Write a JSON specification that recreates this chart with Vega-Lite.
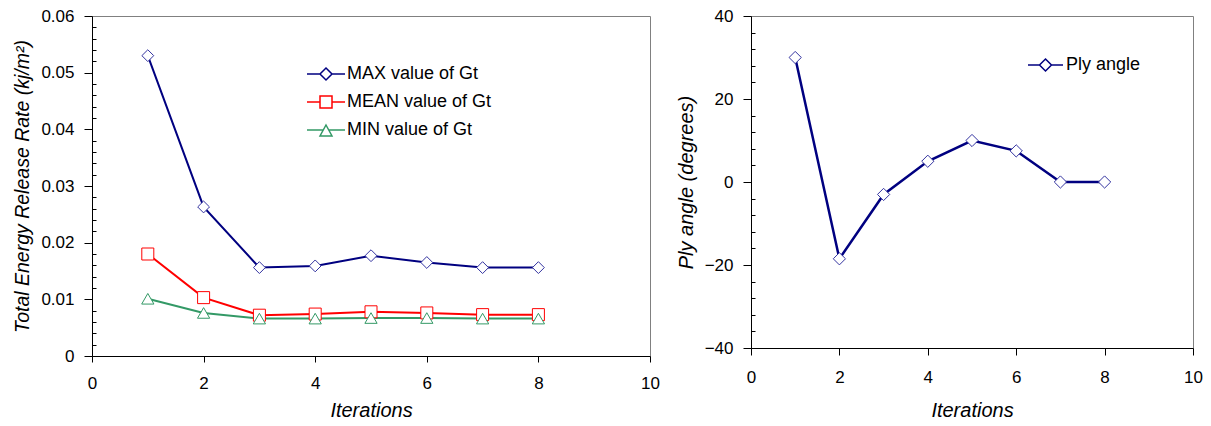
{
  "$schema": "https://vega.github.io/schema/vega-lite/v6.json",
  "padding": {"left": 12, "top": 6, "right": 5, "bottom": 5},
  "background": "white",
  "datasets": {
    "gt": [
      {"iter": 1, "series": "MAX value of Gt", "value": 0.0530},
      {"iter": 2, "series": "MAX value of Gt", "value": 0.0263},
      {"iter": 3, "series": "MAX value of Gt", "value": 0.0156},
      {"iter": 4, "series": "MAX value of Gt", "value": 0.0159},
      {"iter": 5, "series": "MAX value of Gt", "value": 0.0177},
      {"iter": 6, "series": "MAX value of Gt", "value": 0.0165},
      {"iter": 7, "series": "MAX value of Gt", "value": 0.0156},
      {"iter": 8, "series": "MAX value of Gt", "value": 0.0156},
      {"iter": 1, "series": "MEAN value of Gt", "value": 0.0180},
      {"iter": 2, "series": "MEAN value of Gt", "value": 0.0103},
      {"iter": 3, "series": "MEAN value of Gt", "value": 0.0072},
      {"iter": 4, "series": "MEAN value of Gt", "value": 0.0074},
      {"iter": 5, "series": "MEAN value of Gt", "value": 0.0078},
      {"iter": 6, "series": "MEAN value of Gt", "value": 0.0076},
      {"iter": 7, "series": "MEAN value of Gt", "value": 0.0073},
      {"iter": 8, "series": "MEAN value of Gt", "value": 0.0073},
      {"iter": 1, "series": "MIN value of Gt", "value": 0.0101},
      {"iter": 2, "series": "MIN value of Gt", "value": 0.0076},
      {"iter": 3, "series": "MIN value of Gt", "value": 0.0066},
      {"iter": 4, "series": "MIN value of Gt", "value": 0.0066},
      {"iter": 5, "series": "MIN value of Gt", "value": 0.0067},
      {"iter": 6, "series": "MIN value of Gt", "value": 0.0067},
      {"iter": 7, "series": "MIN value of Gt", "value": 0.0066},
      {"iter": 8, "series": "MIN value of Gt", "value": 0.0066}
    ],
    "ply": [
      {"iter": 1, "series": "Ply angle", "angle": 30},
      {"iter": 2, "series": "Ply angle", "angle": -18.5},
      {"iter": 3, "series": "Ply angle", "angle": -3},
      {"iter": 4, "series": "Ply angle", "angle": 5},
      {"iter": 5, "series": "Ply angle", "angle": 10},
      {"iter": 6, "series": "Ply angle", "angle": 7.5},
      {"iter": 7, "series": "Ply angle", "angle": 0},
      {"iter": 8, "series": "Ply angle", "angle": 0}
    ]
  },
  "spacing": 15,
  "hconcat": [
    {
      "width": 558,
      "height": 340,
      "data": {"name": "gt"},
      "encoding": {
        "x": {
          "field": "iter", "type": "quantitative",
          "scale": {"domain": [0, 10], "nice": false},
          "axis": {"title": "Iterations", "titleFontSize": 20, "values": [0, 2, 4, 6, 8, 10], "tickSize": 6, "labelPadding": 13, "titlePadding": 9, "labelFlush": false}
        },
        "y": {
          "field": "value", "type": "quantitative",
          "scale": {"domain": [0, 0.06], "nice": false},
          "axis": {
            "title": "Total Energy Release Rate (kj/m²)",
            "titleFontSize": 19.5,
            "values": [0,0.002,0.004,0.006,0.008,0.01,0.012,0.014,0.016,0.018,0.02,0.022,0.024,0.026,0.028,0.03,0.032,0.034,0.036,0.038,0.04,0.042,0.044,0.046,0.048,0.05,0.052,0.054,0.056,0.058,0.06],
            "labelExpr": "abs(datum.value*100 - round(datum.value*100)) < 0.001 ? format(datum.value, '.2~f') : ''",
            "tickSize": {"condition": {"test": "abs(datum.value*100 - round(datum.value*100)) < 0.001", "value": 8}, "value": -4},
            "labelPadding": 10,
            "titlePadding": 8,
            "labelFlush": false
          }
        }
      },
      "layer": [
        {
          "mark": {"type": "line", "strokeWidth": 2},
          "encoding": {
            "color": {
              "field": "series", "type": "nominal",
              "scale": {"domain": ["MAX value of Gt", "MEAN value of Gt", "MIN value of Gt"], "range": ["#000080", "#FF0000", "#339966"]},
              "legend": {
                "orient": "none", "legendX": 223, "legendY": 47, "title": null,
                "symbolSize": 400, "labelOffset": 10, "rowPadding": 8, "padding": 0,
                "symbolStrokeWidth": 1.5,
                "encode": {"symbols": {"update": {
                  "shape": {"signal": "datum.value === 'MAX value of Gt' ? 'M-1.9,0H-0.6M0.6,0H1.9M0,-0.6L0.6,0L0,0.6L-0.6,0Z' : datum.value === 'MEAN value of Gt' ? 'M-1.9,0H-0.6M0.6,0H1.9M-0.6,-0.6H0.6V0.6H-0.6Z' : 'M-1.9,0H-0.27M0.27,0H1.9M0,-0.5L0.6,0.6H-0.6Z'"},
                  "fill": {"value": "white"}
                }}}
              }
            }
          }
        },
        {
          "transform": [{"filter": "datum.series === 'MAX value of Gt'"}],
          "mark": {"type": "point", "filled": false, "fill": "white", "shape": "diamond", "size": 140, "strokeWidth": 1, "stroke": "#3333A0", "opacity": 1},
          "encoding": {}
        },
        {
          "transform": [{"filter": "datum.series === 'MEAN value of Gt'"}],
          "mark": {"type": "point", "filled": false, "fill": "white", "shape": "square", "size": 144, "strokeWidth": 1, "stroke": "#FF0000", "opacity": 1},
          "encoding": {}
        },
        {
          "transform": [{"filter": "datum.series === 'MIN value of Gt'"}],
          "mark": {"type": "point", "filled": false, "fill": "white", "shape": "triangle-up", "size": 150, "strokeWidth": 1, "stroke": "#339966", "opacity": 1},
          "encoding": {}
        }
      ]
    },
    {
      "width": 442,
      "height": 332,
      "data": {"name": "ply"},
      "encoding": {
        "x": {
          "field": "iter", "type": "quantitative",
          "scale": {"domain": [0, 10], "nice": false},
          "axis": {"title": "Iterations", "titleFontSize": 20, "values": [0, 2, 4, 6, 8, 10], "tickSize": 7, "labelPadding": 14, "titlePadding": 15, "labelFlush": false}
        },
        "y": {
          "field": "angle", "type": "quantitative",
          "scale": {"domain": [-40, 40], "nice": false},
          "axis": {
            "title": "Ply angle (degrees)",
            "titleFontSize": 20,
            "values": [-40,-36,-32,-28,-24,-20,-16,-12,-8,-4,0,4,8,12,16,20,24,28,32,36,40],
            "labelExpr": "datum.value % 20 === 0 ? format(datum.value, 'd') : ''",
            "tickSize": {"condition": {"test": "datum.value % 20 === 0", "value": 8}, "value": -4},
            "labelPadding": 10,
            "titlePadding": 8,
            "labelFlush": false
          }
        }
      },
      "layer": [
        {
          "mark": {"type": "line", "strokeWidth": 2.5},
          "encoding": {
            "color": {
              "field": "series", "type": "nominal",
              "scale": {"domain": ["Ply angle"], "range": ["#000080"]},
              "legend": {
                "orient": "none", "legendX": 283.5, "legendY": 38, "title": null,
                "symbolSize": 400, "labelOffset": 9.5, "padding": 0,
                "symbolStrokeWidth": 1.5,
                "encode": {"symbols": {"update": {
                  "shape": {"value": "M-1.75,0H-0.6M0.6,0H1.75M0,-0.6L0.6,0L0,0.6L-0.6,0Z"},
                  "fill": {"value": "white"}
                }}}
              }
            }
          }
        },
        {
          "mark": {"type": "point", "filled": false, "fill": "white", "shape": "diamond", "size": 150, "strokeWidth": 1, "stroke": "#3333A0", "opacity": 1},
          "encoding": {}
        }
      ]
    }
  ],
  "resolve": {
    "scale": {"color": "independent", "x": "independent", "y": "independent"},
    "legend": {"color": "independent"}
  },
  "config": {
    "view": {"stroke": "#808080", "strokeWidth": 1},
    "axis": {
      "domainColor": "black", "tickColor": "black", "labelColor": "black", "titleColor": "black",
      "labelFont": "Liberation Sans", "titleFont": "Liberation Sans",
      "labelFontSize": 17, "labelFontWeight": "normal",
      "titleFontWeight": "normal", "titleFontStyle": "italic",
      "grid": false, "domainWidth": 1, "tickWidth": 1
    },
    "legend": {"labelFont": "Liberation Sans", "labelFontSize": 18, "labelColor": "black"}
  }
}
